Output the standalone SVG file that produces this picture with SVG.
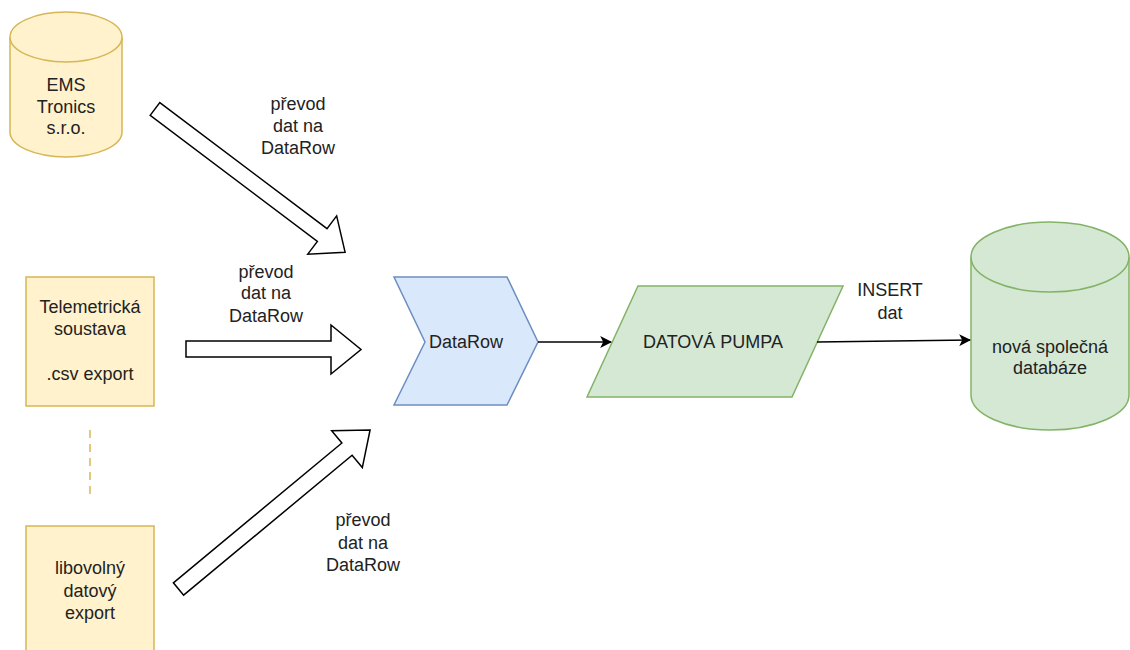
<svg xmlns="http://www.w3.org/2000/svg" width="1130" height="650" viewBox="0 0 1130 650">
  <style>
    text { font-family: "Liberation Sans", Arial, sans-serif; font-size: 18px; fill: #222; text-anchor: middle; dominant-baseline: central; }
    .yellow { fill: #fff2cc; stroke: #d6b656; stroke-width: 1.5; }
    .blue { fill: #dae8fc; stroke: #6c8ebf; stroke-width: 1.5; }
    .green { fill: #d5e8d4; stroke: #82b366; stroke-width: 1.5; }
    .block { fill: #fff; stroke: #000; stroke-width: 1.5; stroke-linejoin: miter; }
    .edge { fill: none; stroke: #000; stroke-width: 1.5; }
  </style>
  <defs>
    <marker id="arrow" viewBox="0 0 10 10" refX="9" refY="5" markerWidth="12" markerHeight="12" markerUnits="userSpaceOnUse" orient="auto">
      <path d="M0,0 L10,5 L0,10 L2.5,5 Z" fill="#000"/>
    </marker>
    <!-- wide outlined arrow used for the three conversion steps -->
    <polygon id="blockArrowLong" points="0,-8 219,-8 219,-24 249,0 219,24 219,8 0,8"/>
  </defs>

  <!-- source: EMS Tronics database -->
  <g id="ems">
    <path class="yellow" d="M10,37 A56,25 0 0 1 122,37 L122,132 A56,25 0 0 1 10,132 Z"/>
    <path class="yellow" fill="none" d="M10,37 A56,25 0 0 0 122,37"/>
    <text x="66" y="85">EMS</text>
    <text x="66" y="107">Tronics</text>
    <text x="66" y="128">s.r.o.</text>
  </g>

  <!-- source: telemetry CSV export -->
  <g id="telemetrie">
    <rect class="yellow" x="26" y="277" width="128" height="129"/>
    <text x="90" y="307">Telemetrická</text>
    <text x="90" y="329">soustava</text>
    <text x="90" y="374">.csv export</text>
  </g>

  <!-- source: any other data export -->
  <g id="libovolny">
    <rect class="yellow" x="26" y="526" width="128" height="130"/>
    <text x="90" y="568">libovolný</text>
    <text x="90" y="591">datový</text>
    <text x="90" y="613">export</text>
  </g>

  <!-- ellipsis between sources -->
  <g id="oddelovac">
    <line x1="90" y1="430" x2="90" y2="495" stroke="#d6b656" stroke-width="1.5" stroke-dasharray="8,6"/>
  </g>

  <!-- common DataRow format -->
  <g id="datarow">
    <polygon class="blue" points="394,277 507,277 538,342 507,405 394,405 425,342"/>
    <text x="466" y="342">DataRow</text>
  </g>

  <!-- data pump -->
  <g id="pumpa">
    <polygon class="green" points="638,286 843,286 792,397 587,397"/>
    <text x="713" y="342">DATOVÁ PUMPA</text>
  </g>

  <!-- target database -->
  <g id="databaze">
    <path class="green" d="M971,257 A79,35 0 0 1 1129,257 L1129,395 A79,35 0 0 1 971,395 Z"/>
    <path class="green" fill="none" d="M971,257 A79,35 0 0 0 1129,257"/>
    <text x="1050" y="347">nová společná</text>
    <text x="1050" y="368">databáze</text>
  </g>

  <!-- connectors -->
  <g id="connectors">
    <use href="#blockArrowLong" class="block" transform="translate(155,109) rotate(37) scale(0.956,1)"/>
    <polygon class="block" points="186,341 331,341 331,325 361,349.5 331,374 331,357 186,357"/>
    <use href="#blockArrowLong" class="block" transform="translate(178.5,589) rotate(-39.7)"/>
    <line class="edge" x1="538" y1="342" x2="611" y2="342" marker-end="url(#arrow)"/>
    <line class="edge" x1="817" y1="342" x2="970" y2="340" marker-end="url(#arrow)"/>

    <text x="298" y="104">převod</text>
    <text x="298" y="126">dat na</text>
    <text x="298" y="148">DataRow</text>

    <text x="266" y="272">převod</text>
    <text x="266" y="293">dat na</text>
    <text x="266" y="316">DataRow</text>

    <text x="363" y="520">převod</text>
    <text x="363" y="543">dat na</text>
    <text x="363" y="565">DataRow</text>

    <text x="890" y="290">INSERT</text>
    <text x="890" y="313">dat</text>
  </g>
</svg>
